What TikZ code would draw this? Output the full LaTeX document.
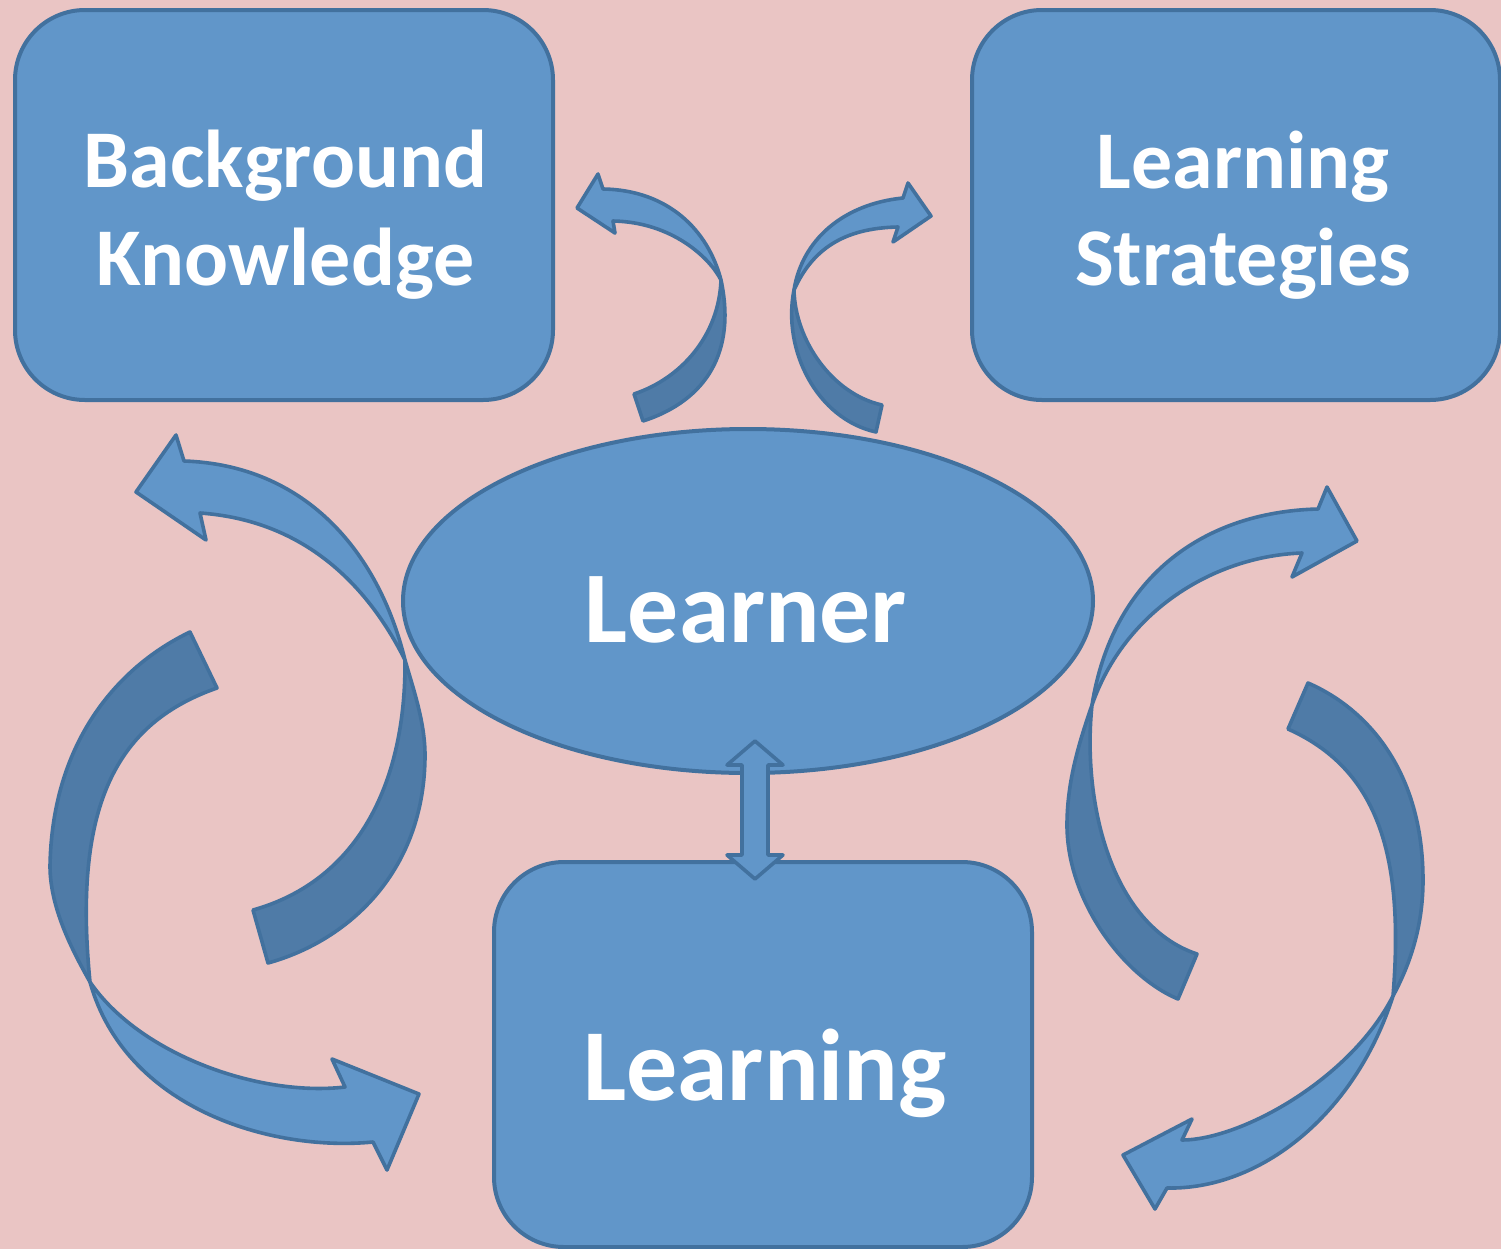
\documentclass[tikz,border=0pt]{standalone}
\usepackage{fontspec}
\setmainfont{Carlito}
\usetikzlibrary{shapes.geometric}
\definecolor{pagebg}{RGB}{234,197,196}
\definecolor{facefill}{RGB}{97,150,201}
\definecolor{backfill}{RGB}{79,123,167}
\definecolor{edgeblue}{RGB}{66,113,158}
\begin{document}
\begin{tikzpicture}[x=0.5pt,y=-0.5pt,
  panel/.style={draw=edgeblue, fill=facefill, line width=2pt, rounded corners=35pt, inner sep=0pt},
  oval/.style={ellipse, draw=edgeblue, fill=facefill, line width=2pt, inner sep=0pt},
  caption/.style={text=white, font=\fontsize{41pt}{49pt}\selectfont\bfseries, anchor=base, inner sep=0pt},
  bigcaption/.style={caption, font=\fontsize{51pt}{61pt}\selectfont\bfseries},
  front/.style={fill=facefill, draw=edgeblue, line width=1.8pt, line join=round},
  back/.style={fill=backfill, draw=edgeblue, line width=1.8pt, line join=round}]

% page
\fill[pagebg] (0,0) rectangle (1501,1249);
\useasboundingbox (0,0) rectangle (1501,1249);

% boxes and the central oval
\node[panel, minimum width=269pt, minimum height=195pt] (bk) at (284,205) {};
\node[panel, minimum width=264pt, minimum height=195pt] (ls) at (1236,205) {};
\node[panel, minimum width=269pt, minimum height=192.5pt] (lg) at (763,1054.5) {};
\node[oval, minimum width=345pt, minimum height=172pt] (lr) at (748,601) {};

% labels
\node[caption] (bk1) at (285.5,187) {Background};
\node[caption] (bk2) at (285.5,285) {Knowledge};
\node[caption] (ls1) at (1243,188) {Learning};
\node[caption] (ls2) at (1243,285) {Strategies};
\node[bigcaption, font=\fontsize{50.8pt}{61pt}\selectfont\bfseries] (lrt) at (746,642) {Learner};
\node[bigcaption] (lgt) at (765,1100) {Learning};

% small arrow, up to the left box
\filldraw[back] (721,280) .. controls (736,350) and (708,400) .. (643,421)
  -- (634,394) .. controls (682,378) and (719,335) .. (721,280) -- cycle;
\filldraw[front] (721,280) .. controls (708,230) and (668,190) .. (603,189)
  -- (598,174) -- (577,208) -- (615,233) -- (613,221)
  .. controls (672,222) and (710,258) .. (721,280) -- cycle;

% small arrow, up to the right box
\filldraw[back] (794,290) .. controls (782,350) and (817,419) .. (876,432)
  -- (882,405) .. controls (832,394) and (795,340) .. (794,290) -- cycle;
\filldraw[front] (794,290) .. controls (802,240) and (843,204) .. (903,198)
  -- (908,183) -- (931,216) -- (893,242) -- (898,227)
  .. controls (843,228) and (812,250) .. (794,290) -- cycle;

% large arrow, left side, up to the left box
\filldraw[back] (405,660) .. controls (413,688) and (425,722) .. (425,755)
  .. controls (425,869) and (351,940) .. (268,963)
  -- (253,910) .. controls (360,880) and (406,780) .. (405,660) -- cycle;
\filldraw[front] (405,660) .. controls (378,550) and (304,465) .. (184,461)
  -- (176,435) -- (136,492) -- (206,540) -- (200,513)
  .. controls (300,520) and (365,580) .. (405,660) -- cycle;

% large arrow, left side, down to the bottom box
\filldraw[back] (190,632) .. controls (115,668) and (52,745) .. (50,866)
  .. controls (50,910) and (75,955) .. (90,982)
  .. controls (72,800) and (120,722) .. (217,688) -- cycle;
\filldraw[front] (90,982) .. controls (125,1108) and (270,1152) .. (373,1142)
  -- (387,1170) -- (419,1094) -- (332,1059) -- (345,1087)
  .. controls (260,1097) and (140,1055) .. (90,982) -- cycle;

% large arrow, right side, up to the right box
\filldraw[back] (1092,705) .. controls (1080,740) and (1067,780) .. (1067,825)
  .. controls (1067,900) and (1123,976) .. (1178,999)
  -- (1197,954) .. controls (1110,925) and (1082,800) .. (1092,705) -- cycle;
\filldraw[front] (1092,705) .. controls (1112,580) and (1200,512) .. (1318,509)
  -- (1327,487) -- (1357,541) -- (1292,577) -- (1302,553)
  .. controls (1215,556) and (1125,610) .. (1092,705) -- cycle;

% large arrow, right side, down to the bottom box
\filldraw[back] (1308,683) .. controls (1368,709) and (1423,772) .. (1423,880)
  .. controls (1423,930) and (1408,968) .. (1393,996)
  .. controls (1405,850) and (1375,768) .. (1288,729) -- cycle;
\filldraw[front] (1393,996) .. controls (1355,1115) and (1260,1190) .. (1167,1188)
  -- (1155,1209) -- (1123,1155) -- (1192,1119) -- (1182,1140)
  .. controls (1240,1140) and (1350,1080) .. (1393,996) -- cycle;

% two-headed link between the oval and the bottom box
\coordinate (lk) at (755,810);
\filldraw[front] (lk) ++(0,-69) -- ++(28,24) -- ++(-15,0) -- ++(0,90) -- ++(15,0)
  -- ++(-28,24) -- ++(-28,-24) -- ++(15,0) -- ++(0,-90) -- ++(-15,0) -- cycle;
\end{tikzpicture}
\end{document}
